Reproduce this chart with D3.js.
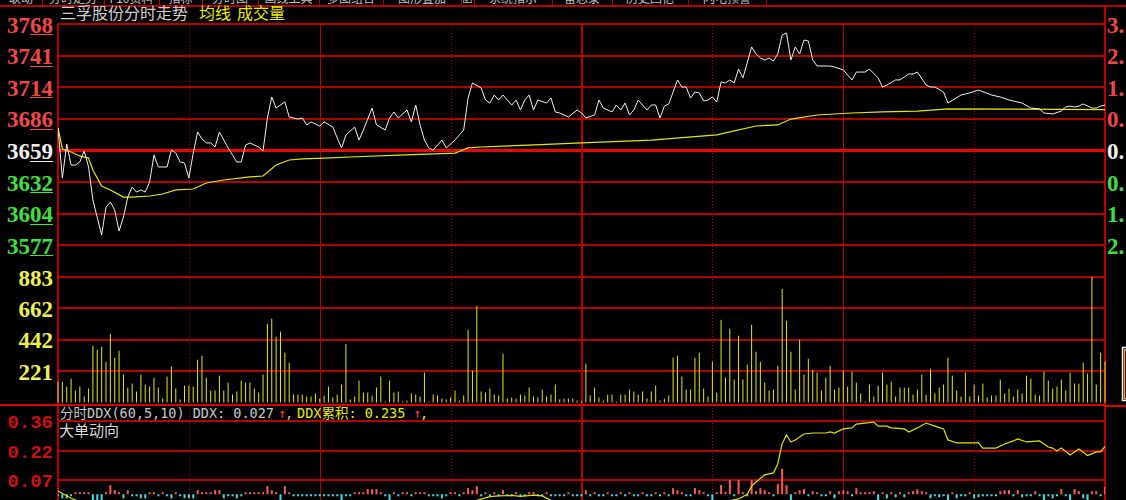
<!DOCTYPE html>
<html>
<head>
<meta charset="utf-8">
<script src="https://cdn.jsdelivr.net/npm/d3@7"></script>
<style>
  html, body { margin: 0; padding: 0; background: #000; overflow: hidden; }
</style>
</head>
<body>
<div id="chart"></div>
<script>
// ---------------- data ----------------
const stockName = "三孚股份分时走势";
const prevClose = 3659.1;
const priceStep = 27.25;
const priceTickLabels = ["3768", "3741", "3714", "3686", "3659", "3632", "3604", "3577"];
const pctTickLabels = ["3.00%", "2.25%", "1.50%", "0.75%", "0.00%", "0.75%", "1.50%", "2.25%"];
const volTicks = [883, 662, 442, 221];
const ddxTickValues = [0.36, 0.215, 0.07];
const ddxTickLabels = ["0.36", "0.22", "0.07"];
const tabLabels = ["联动", "分时走势", "F10资料", "指标", "分时图", "画线工具", "多图组合", "图形叠加", "☑", "系统指示", "备忘录", "历史回忆", "闪电预警"];

// [minute, price]
const pricePoints = [
  [0,3678.5],[1,3635.4],[2,3664.7],[3,3646.6],[4,3646.6],[5,3649.2],[6,3658.7],[7,3644.9],[8,3616.4],[10,3586.3],
  [11,3610.4],[12,3614.7],[13,3607.8],[14,3589.7],[15,3601.8],[16,3619.0],[17,3627.6],[18,3623.3],[19,3625.1],[20,3623.3],
  [21,3632.0],[22,3655.2],[23,3644.9],[25,3644.9],[26,3659.5],[27,3656.9],[28,3649.2],[29,3648.3],[30,3635.4],[31,3656.9],
  [32,3675.0],[33,3669.0],[34,3665.6],[35,3665.6],[36,3662.1],[37,3675.0],[39,3661.3],[41,3649.2],[42,3649.2],[43,3663.8],
  [44,3665.6],[46,3662.1],[47,3658.7],[48,3687.1],[49,3705.2],[50,3695.7],[52,3700.9],[53,3688.0],[55,3686.2],[56,3687.1],
  [57,3681.1],[58,3683.7],[60,3680.2],[61,3683.7],[63,3679.3],[64,3669.9],[65,3661.3],[66,3672.5],[68,3679.3],[69,3668.1],
  [70,3676.8],[72,3695.7],[73,3681.1],[75,3676.8],[76,3687.1],[77,3692.3],[78,3687.1],[80,3694.0],[81,3683.7],[82,3698.3],
  [83,3681.1],[84,3668.1],[85,3661.3],[86,3659.5],[88,3668.1],[89,3661.3],[91,3668.1],[93,3676.8],[94,3704.3],[95,3717.3],
  [97,3713.0],[98,3702.6],[99,3700.0],[100,3706.9],[101,3702.6],[102,3706.9],[104,3698.3],[105,3702.6],[106,3694.0],[107,3702.6],
  [108,3706.9],[109,3694.0],[110,3702.6],[112,3700.0],[113,3704.3],[114,3692.3],[115,3691.4],[116,3689.7],[117,3688.0],[119,3694.0],
  [120,3691.4],[121,3687.1],[123,3689.7],[124,3702.6],[125,3695.7],[127,3692.3],[128,3698.3],[129,3694.0],[130,3700.0],[131,3689.7],
  [132,3694.0],[133,3702.6],[135,3694.0],[136,3698.3],[137,3698.3],[138,3687.1],[139,3697.4],[140,3699.2],[142,3719.9],[143,3713.8],
  [144,3713.8],[145,3704.3],[146,3709.5],[147,3708.7],[148,3701.8],[149,3702.6],[150,3705.2],[151,3700.9],[152,3718.1],[153,3717.3],
  [154,3719.9],[155,3717.3],[156,3729.3],[157,3721.6],[159,3748.3],[160,3742.3],[161,3738.8],[162,3737.1],[163,3738.8],[164,3736.2],
  [165,3742.3],[166,3758.6],[167,3760.3],[168,3737.1],[169,3748.3],[170,3742.3],[171,3754.3],[172,3753.5],[173,3737.1],[174,3731.9],
  [177,3731.9],[178,3731.0],[180,3728.5],[182,3719.9],[183,3726.7],[185,3726.7],[186,3729.3],[188,3721.6],[189,3713.8],[190,3715.5],
  [192,3719.9],[193,3719.9],[195,3725.0],[196,3725.0],[197,3726.7],[199,3715.5],[200,3713.8],[201,3713.8],[203,3709.5],[204,3700.0],
  [207,3706.9],[209,3708.7],[211,3711.2],[214,3706.9],[216,3705.2],[218,3702.6],[221,3700.0],[223,3695.7],[225,3694.9],[226,3691.4],
  [228,3690.6],[230,3693.1],[231,3696.6],[232,3697.4],[233,3696.6],[234,3697.4],[235,3699.2],[237,3695.7],[238,3695.7],[239,3697.4],
  [240,3698.3]
];

// [minute, average price]
const avgPoints = [
  [0,3678.5],[1,3660.4],[3,3657.8],[5,3654.4],[7,3652.6],[8,3642.3],[10,3628.5],[12,3625.1],[15,3619.0],[17,3619.0],
  [21,3619.9],[24,3621.6],[27,3625.1],[31,3625.9],[34,3631.1],[38,3633.7],[44,3636.3],[47,3637.1],[50,3646.6],[53,3650.9],
  [56,3651.8],[61,3652.6],[67,3653.5],[78,3655.2],[91,3656.9],[94,3661.3],[97,3662.1],[108,3663.8],[120,3665.6],[136,3668.1],
  [151,3672.5],[160,3680.2],[165,3681.1],[168,3686.2],[174,3689.7],[182,3691.4],[189,3692.3],[197,3693.1],[204,3694.9],[240,3694.4]
];

// one bar per minute, 0..240
const volumes = [
  147,147,112,168,84,112,42,98,399,371,392,287,484,315,364,196,105,133,77,196,126,112,175,105,28,182,252,98,21,119,
  119,112,301,329,175,84,84,189,84,140,56,77,154,140,140,98,70,196,554,589,463,498,350,280,56,56,
  56,42,42,63,28,49,112,35,56,126,413,21,42,154,70,70,49,105,182,7,154,70,77,7,14,63,56,42,210,7,56,49,28,21,
  35,84,14,49,512,224,680,77,70,98,56,49,343,28,35,28,56,49,105,42,35,91,42,56,126,21,28,28,28,14,
  7,273,49,105,35,14,56,56,7,56,56,91,77,56,77,28,77,119,14,28,49,315,329,182,91,91,315,350,98,42,
  287,70,582,175,519,161,470,161,266,
  547,357,287,140,84,91,259,799,575,357,91,442,196,308,231,210,84,175,259,91,105,224,112,217,140,63,7,126,42,119,
  210,126,147,42,105,105,105,56,91,196,56,238,63,105,126,315,189,84,42,210,42,126,49,133,35,49,49,161,63,98,
  42,91,63,189,168,56,49,217,154,98,112,161,84,210,133,133,280,203,883,126,350,287
];

// DDX per minute, 0..240
const ddxBars = [
  -0.01,-0.02,-0.02,-0.01,0.01,0.01,0.01,0.01,-0.03,-0.03,-0.03,0.01,0.045,0.02,0.01,-0.02,0.02,-0.01,-0.01,-0.02,
  -0.02,0.01,0.01,-0.01,0.01,-0.01,-0.02,0.01,-0.01,-0.02,-0.02,-0.02,0.02,0.01,0.01,0.01,0.02,0.02,-0.02,-0.01,
  -0.01,-0.02,-0.01,0.01,0.01,0.01,0.01,0.01,0.04,0.02,0.01,-0.04,0.04,0.01,-0.01,-0.01,
  -0.01,-0.01,-0.01,-0.01,-0.01,-0.01,-0.01,-0.01,-0.01,-0.03,-0.01,-0.01,
  0.01,0.01,0.01,0.025,0.025,0.025,0.01,
  -0.01,-0.03,0.01,-0.01,0.01,0.01,-0.01,0.01,0.01,0.01,-0.01,-0.01,-0.01,-0.02,-0.01,0.01,
  0.01,-0.01,0.01,0.03,0.02,0.04,-0.01,0.01,-0.01,0.01,
  -0.01,0.02,-0.01,-0.01,0.01,-0.01,-0.01,0.01,0.01,-0.01,
  -0.01,0.01,-0.01,-0.01,-0.01,-0.01,0.01,-0.01,-0.01,-0.01,
  0.02,-0.01,0.01,-0.01,-0.01,0.01,-0.01,-0.01,0.01,-0.01,
  0.01,-0.01,-0.01,0.01,-0.01,-0.01,0.01,-0.01,0.01,-0.01,
  0.03,0.02,0.01,-0.01,-0.01,0.03,0.02,
  0.01,-0.01,-0.03,0.01,0.045,0.01,0.07,-0.01,0.07,0.01,-0.01,0.07,0.015,0.03,0.02,0.01,-0.01,0.05,0.125,0.045,
  -0.03,0.01,0.02,0.025,-0.01,0.015,0.01,-0.01,-0.01,0.015,-0.02,0.015,0.02,0.015,-0.01,0.03,0.01,0.01,0.01,0.015,
  -0.03,0.01,-0.02,0.01,-0.015,0.01,-0.015,0.01,0.015,0.025,0.015,0.01,-0.02,-0.01,-0.015,-0.01,-0.03,0.01,-0.02,-0.01,
  -0.01,0.01,-0.02,-0.015,-0.01,-0.01,-0.01,-0.01,0.015,0.02,0.02,-0.01,0.02,-0.015,-0.01,-0.01,0.015,-0.01,-0.03,-0.01,
  -0.02,-0.01,0.025,-0.01,-0.03,0.025,0.015,-0.02,-0.03,0.015,0.015,-0.01,0.035
];

// [minute, cumulative DDX]
const ddxSumPoints = [
  [0,0.016],[3,-0.02],[8,-0.06],[30,-0.09],[60,-0.08],[90,-0.05],[96,-0.03],[99,-0.012],[101,-0.008],[104,-0.006],
  [106,-0.01],[109,-0.004],[111,-0.008],[113,-0.03],[120,-0.06],[140,-0.06],[152,-0.04],[156,-0.023],[158,0.0],[159,0.04],
  [160,0.06],[162,0.095],[164,0.105],[165,0.15],[166,0.25],[167,0.291],[168,0.257],[169,0.267],[171,0.296],[173,0.301],
  [176,0.301],[177,0.306],[178,0.301],[180,0.321],[182,0.326],[183,0.345],[185,0.35],[187,0.355],[188,0.335],[190,0.335],
  [191,0.326],[194,0.321],[195,0.306],[197,0.326],[199,0.35],[201,0.335],[203,0.321],[204,0.267],[206,0.252],[211,0.252],
  [212,0.227],[215,0.227],[217,0.247],[219,0.262],[220,0.272],[222,0.257],[225,0.262],[227,0.232],[228,0.227],[229,0.213],
  [230,0.227],[232,0.193],[234,0.222],[236,0.19],[238,0.208],[239,0.208],[240,0.235]
];

// ---------------- layout ----------------
const W = 1126, H = 500;
const X0 = 58, X1 = 1105;
const tabEdges = [0, 42, 104, 159, 202, 258, 319, 383, 461, 474, 552, 612, 688, 766];
const gridRed = "#b00000";
const serif = "'Liberation Serif', 'DejaVu Serif', serif";
const mono = "'DejaVu Sans Mono', 'Noto Sans CJK SC', monospace";
const cjk = "'Noto Sans CJK SC', sans-serif";

const svg = d3.select("#chart").append("svg")
    .attr("width", W)
    .attr("height", H)
    .style("background", "#000")
    .style("display", "block");

const x = d3.scaleLinear().domain([0, 240]).range([X0, X1]);
const yPrice = d3.scaleLinear()
    .domain([prevClose - 4 * priceStep, prevClose + 4 * priceStep])
    .range([277, 24]);
const yVol = d3.scaleLinear().domain([0, 883]).range([402.5, 277]);
const yDdx = d3.scaleLinear().domain([0.07, 0.36]).range([480, 421]);

const defs = svg.append("defs");
defs.append("clipPath").attr("id", "clip-price")
    .append("rect").attr("x", X0).attr("y", 24).attr("width", X1 - X0).attr("height", 253);
defs.append("clipPath").attr("id", "clip-ddx")
    .append("rect").attr("x", X0).attr("y", 406).attr("width", X1 - X0).attr("height", 94);
defs.append("clipPath").attr("id", "clip-right")
    .append("rect").attr("x", X1 + 1).attr("y", 7).attr("width", 18).attr("height", 270);

// ---------------- header tabs ----------------
const header = svg.append("g");
header.selectAll("text.tab")
    .data(tabLabels)
    .join("text")
    .attr("class", "tab")
    .attr("x", (d, i) => (tabEdges[i] + tabEdges[i + 1]) / 2)
    .attr("y", 3)
    .attr("text-anchor", "middle")
    .attr("font-family", cjk)
    .attr("font-size", 12)
    .attr("fill", "#c0c0c0")
    .text(d => d);
header.selectAll("line.tabsep")
    .data(tabEdges.slice(1))
    .join("line")
    .attr("x1", d => d + 0.5).attr("x2", d => d + 0.5)
    .attr("y1", 0).attr("y2", 6)
    .attr("stroke", gridRed).attr("stroke-width", 1);
header.append("line")
    .attr("x1", 0).attr("x2", W).attr("y1", 6).attr("y2", 6)
    .attr("stroke", gridRed).attr("stroke-width", 2);

// title
const title = svg.append("text")
    .attr("x", 60).attr("y", 19)
    .attr("font-family", cjk)
    .attr("font-size", 16);
title.append("tspan").attr("fill", "#d0d0d0").text(stockName);
title.append("tspan").attr("x", 199).attr("fill", "#ecec00").text("均线");
title.append("tspan").attr("x", 237).attr("fill", "#ecec00").text("成交量");

// ---------------- grid ----------------
const grid = svg.append("g").attr("shape-rendering", "crispEdges");

// price horizontal lines
const priceLevels = d3.range(-4, 5).map(k => prevClose + k * priceStep);
grid.selectAll("line.ph")
    .data(priceLevels)
    .join("line")
    .attr("x1", X0).attr("x2", X1)
    .attr("y1", d => yPrice(d)).attr("y2", d => yPrice(d))
    .attr("stroke", (d, i) => i === 4 ? "#f00000" : gridRed)
    .attr("stroke-width", (d, i) => i === 4 ? 3 : 2);

// volume horizontal lines
grid.selectAll("line.vh")
    .data(volTicks)
    .join("line")
    .attr("x1", X0).attr("x2", X1)
    .attr("y1", d => yVol(d)).attr("y2", d => yVol(d))
    .attr("stroke", gridRed).attr("stroke-width", 2);

// ddx horizontal lines
grid.selectAll("line.dh")
    .data(ddxTickValues)
    .join("line")
    .attr("x1", X0).attr("x2", X1)
    .attr("y1", d => yDdx(d)).attr("y2", d => yDdx(d))
    .attr("stroke", gridRed).attr("stroke-width", 2);

// vertical lines every 30 minutes, dotted on the odd half hours
grid.selectAll("line.v")
    .data(d3.range(0, 241, 30))
    .join("line")
    .attr("x1", d => Math.round(x(d))).attr("x2", d => Math.round(x(d)))
    .attr("y1", d => d === 240 ? 6 : 24).attr("y2", H)
    .attr("stroke", "#c00000")
    .attr("stroke-width", d => (d === 120 || d === 0 || d === 240) ? 2 : 1)
    .attr("stroke-dasharray", d => (d / 30) % 2 === 1 ? "1,2" : null);

// panel separator under volume
grid.append("line")
    .attr("x1", 0).attr("x2", X1).attr("y1", 404.5).attr("y2", 404.5)
    .attr("stroke", "#d80000").attr("stroke-width", 2);
grid.append("line")
    .attr("x1", X1).attr("x2", W).attr("y1", 405.5).attr("y2", 405.5)
    .attr("stroke", "#d80000").attr("stroke-width", 2);

// little scroll widget at the right edge
svg.append("rect")
    .attr("x", 1122.5).attr("y", 347.5).attr("width", 8).attr("height", 53)
    .attr("fill", "#000").attr("stroke", "#f0f0f0").attr("stroke-width", 1.5);
svg.append("rect")
    .attr("x", 1124.5).attr("y", 349.5).attr("width", 4).attr("height", 49)
    .attr("fill", "none").attr("stroke", "#f0a030").attr("stroke-width", 1.5);

// ---------------- axes labels ----------------
const priceColor = i => i < 4 ? "#f04848" : (i === 4 ? "#f0f0f0" : "#40e040");

const leftLabels = svg.append("g")
    .attr("font-family", serif)
    .attr("font-weight", "bold")
    .attr("font-size", 23);

leftLabels.selectAll("text.pl")
    .data(priceTickLabels)
    .join("text")
    .attr("x", 53)
    .attr("y", (d, i) => yPrice(priceLevels[8 - i]) + 8.5)
    .attr("text-anchor", "end")
    .attr("fill", (d, i) => priceColor(i))
    .text(d => d);

// underline the last two digits
leftLabels.selectAll("line.ul")
    .data(priceTickLabels)
    .join("line")
    .attr("x1", 30).attr("x2", 53)
    .attr("y1", (d, i) => Math.round(yPrice(priceLevels[8 - i])) + 10.5)
    .attr("y2", (d, i) => Math.round(yPrice(priceLevels[8 - i])) + 10.5)
    .attr("stroke", (d, i) => priceColor(i))
    .attr("stroke-width", 1);

leftLabels.selectAll("text.vl")
    .data(volTicks)
    .join("text")
    .attr("x", 53)
    .attr("y", d => yVol(d) + 8.5)
    .attr("text-anchor", "end")
    .attr("fill", "#f0f050")
    .text(d => d);

// percent labels, cut by the window edge as in the terminal
svg.append("g")
    .attr("clip-path", "url(#clip-right)")
    .attr("font-family", serif)
    .attr("font-weight", "bold")
    .attr("font-size", 23)
    .selectAll("text")
    .data(pctTickLabels)
    .join("text")
    .attr("x", 1107)
    .attr("y", (d, i) => yPrice(priceLevels[8 - i]) + 8.5)
    .attr("fill", (d, i) => priceColor(i))
    .text(d => d);

svg.append("g")
    .attr("font-family", "'Liberation Mono', 'DejaVu Sans Mono', monospace")
    .attr("font-weight", "bold")
    .attr("font-size", 19)
    .selectAll("text")
    .data(ddxTickLabels)
    .join("text")
    .attr("x", 53)
    .attr("y", (d, i) => yDdx(ddxTickValues[i]) + 7)
    .attr("text-anchor", "end")
    .attr("fill", "#cc1010")
    .text(d => d);

// ---------------- volume bars ----------------
svg.append("g")
    .selectAll("line")
    .data(volumes)
    .join("line")
    .attr("x1", (d, i) => x(i)).attr("x2", (d, i) => x(i))
    .attr("y1", yVol(0))
    .attr("y2", d => Math.min(yVol(d), yVol(0) - 1))
    .attr("stroke", "#e8e800")
    .attr("stroke-width", 1);

// ---------------- price & average ----------------
const pricePanel = svg.append("g").attr("clip-path", "url(#clip-price)");
const line = d3.line().x(d => x(d[0])).y(d => yPrice(d[1]));

pricePanel.append("path")
    .datum(avgPoints)
    .attr("fill", "none")
    .attr("stroke", "#e6e600")
    .attr("stroke-width", 1.2)
    .attr("d", line);

pricePanel.append("path")
    .datum(pricePoints)
    .attr("fill", "none")
    .attr("stroke", "#f0f0f0")
    .attr("stroke-width", 1)
    .attr("d", line);

// ---------------- DDX panel ----------------
const ddxPanel = svg.append("g").attr("clip-path", "url(#clip-ddx)");
ddxPanel.selectAll("line.bar")
    .data(ddxBars)
    .join("line")
    .attr("x1", (d, i) => x(i)).attr("x2", (d, i) => x(i))
    .attr("y1", yDdx(0))
    .attr("y2", d => yDdx(d))
    .attr("stroke", d => d >= 0 ? "#ff5a5a" : "#40e0e8")
    .attr("stroke-width", 2);

ddxPanel.append("path")
    .datum(ddxSumPoints)
    .attr("fill", "none")
    .attr("stroke", "#e0e000")
    .attr("stroke-width", 1.2)
    .attr("d", d3.line().x(d => x(d[0])).y(d => yDdx(d[1])));

const ddxTitle = svg.append("text")
    .attr("y", 418)
    .attr("font-family", mono)
    .attr("font-size", 13.5);
ddxTitle.append("tspan").attr("x", 60).attr("fill", "#c8c8c8").text("分时DDX(60,5,10) DDX: 0.027");
ddxTitle.append("tspan").attr("x", 278).attr("fill", "#ff4040").text("↑");
ddxTitle.append("tspan").attr("x", 285).attr("fill", "#c8c8c8").text(",");
ddxTitle.append("tspan").attr("x", 297).attr("fill", "#e8e800").text("DDX累积: 0.235");
ddxTitle.append("tspan").attr("x", 413).attr("fill", "#ff4040").text("↑");
ddxTitle.append("tspan").attr("x", 420).attr("fill", "#e8e800").text(",");

svg.append("text")
    .attr("x", 59).attr("y", 436)
    .attr("font-family", cjk)
    .attr("font-size", 15)
    .attr("fill", "#d8d8d8")
    .text("大单动向");
</script>
</body>
</html>
